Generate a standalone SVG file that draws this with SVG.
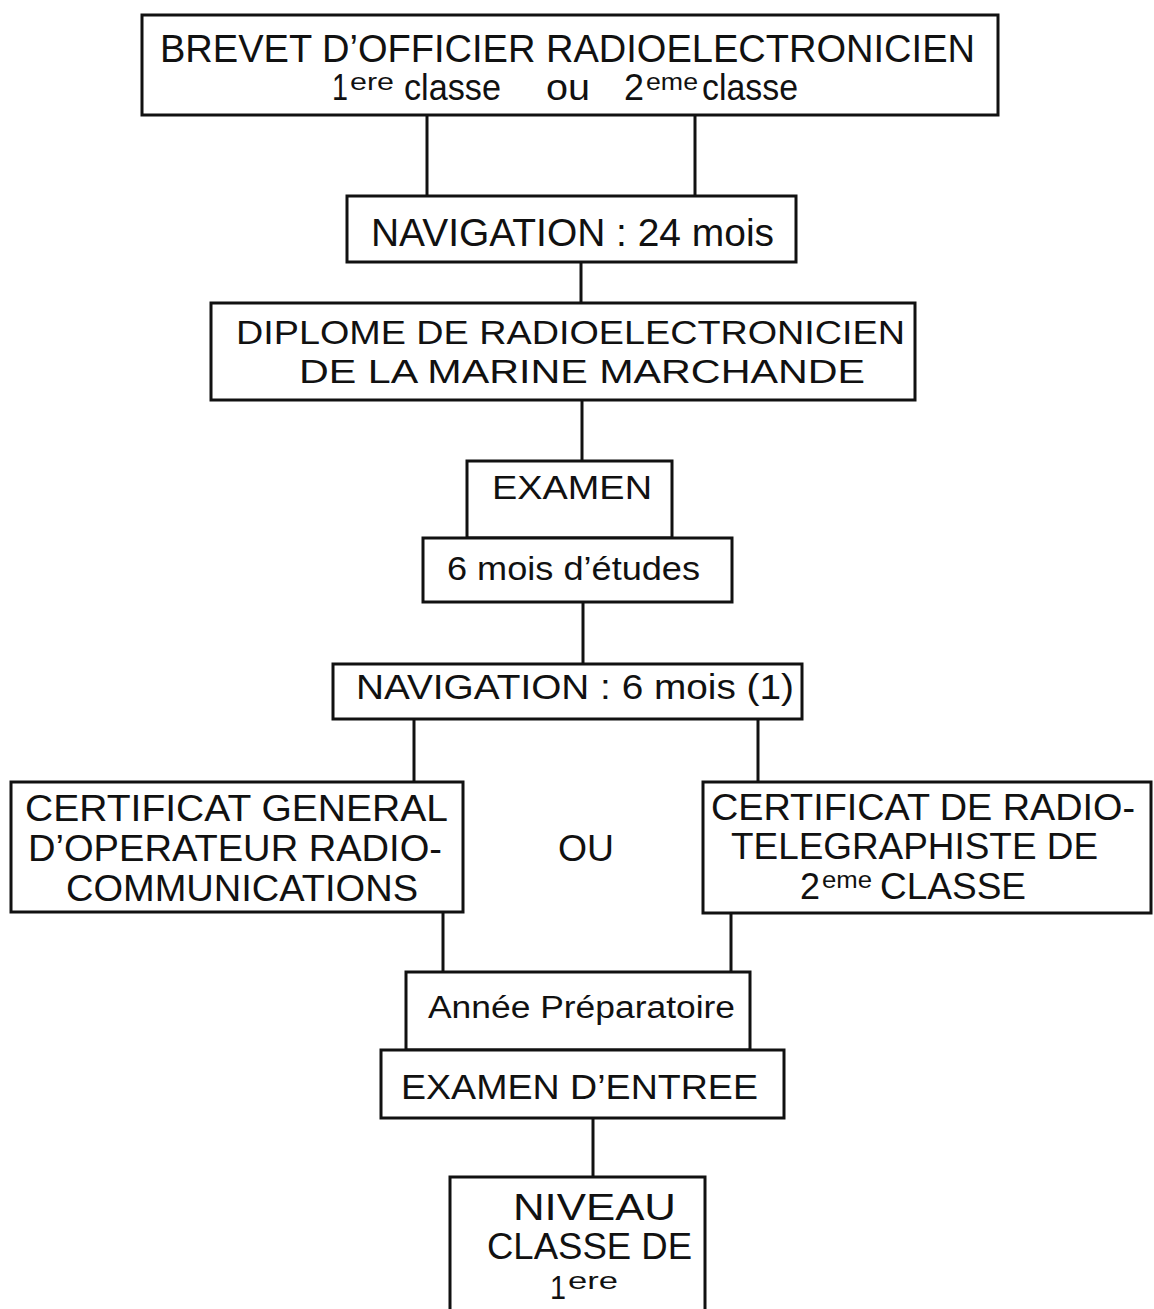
<svg xmlns="http://www.w3.org/2000/svg" width="1154" height="1309" viewBox="0 0 1154 1309">
<style>
.box{fill:#fff;stroke:#111;stroke-width:3}
.ln{stroke:#111;stroke-width:3;fill:none}
text{font-family:"Liberation Sans",Arial,sans-serif;fill:#111}
</style>
<rect width="1154" height="1309" fill="#fff"/>
<g id="connectors">
<line class="ln" x1="427" y1="115" x2="427" y2="196"/>
<line class="ln" x1="695" y1="115" x2="695" y2="196"/>
<line class="ln" x1="581" y1="262" x2="581" y2="303"/>
<line class="ln" x1="582" y1="400" x2="582" y2="461"/>
<line class="ln" x1="583" y1="602" x2="583" y2="664"/>
<line class="ln" x1="414" y1="719" x2="414" y2="782"/>
<line class="ln" x1="758" y1="719" x2="758" y2="782"/>
<line class="ln" x1="443" y1="912" x2="443" y2="972"/>
<line class="ln" x1="731" y1="913" x2="731" y2="972"/>
<line class="ln" x1="593" y1="1118" x2="593" y2="1177"/>
</g>
<g id="n1">
<rect class="box" x="142" y="15" width="856" height="100"/>
<text x="160" y="62" font-size="39" textLength="815" lengthAdjust="spacingAndGlyphs">BREVET D’OFFICIER RADIOELECTRONICIEN</text>
<text x="332" y="100" font-size="36" textLength="16" lengthAdjust="spacingAndGlyphs">1</text>
<text x="350" y="90" font-size="23" textLength="44" lengthAdjust="spacingAndGlyphs">ere</text>
<text x="404" y="100" font-size="36" textLength="97" lengthAdjust="spacingAndGlyphs">classe</text>
<text x="546" y="100" font-size="36" textLength="44" lengthAdjust="spacingAndGlyphs">ou</text>
<text x="624" y="100" font-size="36" textLength="20" lengthAdjust="spacingAndGlyphs">2</text>
<text x="646" y="90" font-size="23" textLength="52" lengthAdjust="spacingAndGlyphs">eme</text>
<text x="702" y="100" font-size="36" textLength="96" lengthAdjust="spacingAndGlyphs">classe</text>
</g>
<g id="n2">
<rect class="box" x="347" y="196" width="449" height="66"/>
<text x="371" y="246" font-size="38" textLength="403" lengthAdjust="spacingAndGlyphs">NAVIGATION : 24 mois</text>
</g>
<g id="n3">
<rect class="box" x="211" y="303" width="704" height="97"/>
<text x="236" y="344" font-size="34" textLength="669" lengthAdjust="spacingAndGlyphs">DIPLOME DE RADIOELECTRONICIEN</text>
<text x="299" y="383" font-size="34" textLength="566" lengthAdjust="spacingAndGlyphs">DE LA MARINE MARCHANDE</text>
</g>
<g id="n4">
<rect class="box" x="467" y="461" width="205" height="77"/>
<text x="492" y="499" font-size="33" textLength="160" lengthAdjust="spacingAndGlyphs">EXAMEN</text>
</g>
<g id="n5">
<rect class="box" x="423" y="538" width="309" height="64"/>
<text x="447" y="580" font-size="34" textLength="253" lengthAdjust="spacingAndGlyphs">6 mois d’études</text>
</g>
<g id="n6">
<rect class="box" x="333" y="664" width="469" height="55"/>
<text x="356" y="699" font-size="35" textLength="438" lengthAdjust="spacingAndGlyphs">NAVIGATION : 6 mois (1)</text>
</g>
<g id="n7">
<rect class="box" x="11" y="782" width="452" height="130"/>
<text x="25" y="821" font-size="37" textLength="423" lengthAdjust="spacingAndGlyphs">CERTIFICAT GENERAL</text>
<text x="28" y="861" font-size="37" textLength="414" lengthAdjust="spacingAndGlyphs">D’OPERATEUR RADIO-</text>
<text x="66" y="901" font-size="37" textLength="352" lengthAdjust="spacingAndGlyphs">COMMUNICATIONS</text>
</g>
<g id="ou">
<text x="558" y="861" font-size="37" textLength="56" lengthAdjust="spacingAndGlyphs">OU</text>
</g>
<g id="n8">
<rect class="box" x="703" y="782" width="448" height="131"/>
<text x="711" y="820" font-size="37" textLength="424" lengthAdjust="spacingAndGlyphs">CERTIFICAT DE RADIO-</text>
<text x="731" y="859" font-size="37" textLength="367" lengthAdjust="spacingAndGlyphs">TELEGRAPHISTE DE</text>
<text x="800" y="899" font-size="37" textLength="20" lengthAdjust="spacingAndGlyphs">2</text>
<text x="822" y="888" font-size="24" textLength="50" lengthAdjust="spacingAndGlyphs">eme</text>
<text x="880" y="899" font-size="37" textLength="146" lengthAdjust="spacingAndGlyphs">CLASSE</text>
</g>
<g id="n9">
<rect class="box" x="406" y="972" width="344" height="78"/>
<text x="428" y="1018" font-size="31" textLength="307" lengthAdjust="spacingAndGlyphs">Année Préparatoire</text>
</g>
<g id="n10">
<rect class="box" x="381" y="1050" width="403" height="68"/>
<text x="401" y="1099" font-size="35" textLength="357" lengthAdjust="spacingAndGlyphs">EXAMEN D’ENTREE</text>
</g>
<g id="n11">
<rect class="box" x="450" y="1177" width="255" height="140"/>
<text x="513" y="1220" font-size="37" textLength="163" lengthAdjust="spacingAndGlyphs">NIVEAU</text>
<text x="487" y="1259" font-size="37" textLength="205" lengthAdjust="spacingAndGlyphs">CLASSE DE</text>
<text x="550" y="1299" font-size="34" textLength="16" lengthAdjust="spacingAndGlyphs">1</text>
<text x="568" y="1289" font-size="23" textLength="50" lengthAdjust="spacingAndGlyphs">ere</text>
</g>
</svg>
